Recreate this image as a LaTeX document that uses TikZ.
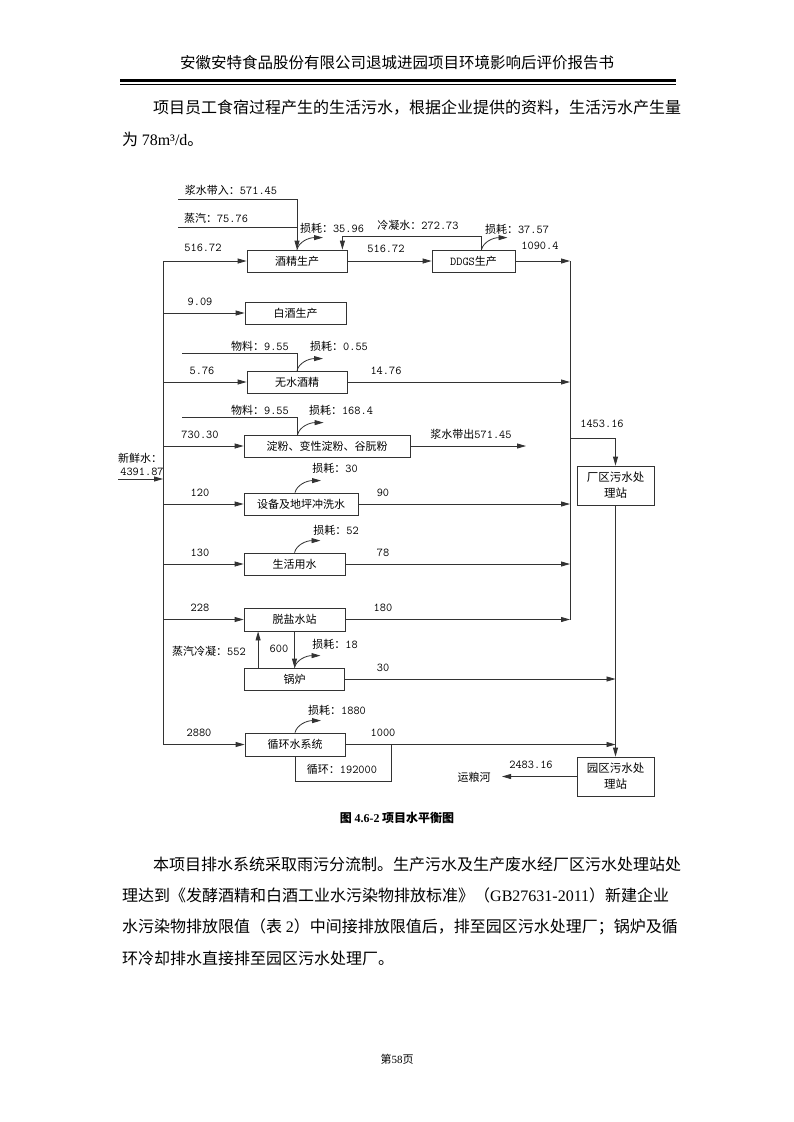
\documentclass[tikz,border=0pt]{standalone}
\usepackage{fontspec}
\setmainfont{Noto Sans CJK SC}
\newfontfamily\tnr{Liberation Serif}
\usetikzlibrary{arrows.meta,calc}
\newcommand\nm[1]{{\ttfamily\fontsize{12}{13}\selectfont #1}}
\newcommand\lossarrow[1]{\draw[arr] (#1) .. controls ($(#1)+(2,-8)$) and ($(#1)+(12,-12)$) .. ($(#1)+(26,-12)$);}
\begin{document}
\begin{tikzpicture}[x=1pt,y=-1pt]
\tikzset{
  ln/.style={draw=black!80, line width=0.8pt},
  arr/.style={ln, -{Triangle[length=9pt,width=5pt]}},
  box/.style={draw=black!80, line width=0.8pt, minimum height=22pt, inner sep=0pt,
              font=\fontsize{11}{15}\selectfont, align=center},
  lbl/.style={font=\fontsize{11}{13}\selectfont, inner sep=0pt},
  body/.style={font=\fontsize{16}{20}\selectfont, inner sep=0pt, anchor=west},
}
\fill[white] (0,0) rectangle (793,1122);
\useasboundingbox (0,0) rectangle (793,1122);

% header
\node[font=\fontsize{15.5}{18}\selectfont, inner sep=0pt] (hdr) at (397,63) {安徽安特食品股份有限公司退城进园项目环境影响后评价报告书};
\draw[line width=3pt] (120,80.5) -- (676,80.5);
\draw[line width=1pt] (120,84.6) -- (676,84.6);

% paragraph 1
\node[body] (p1a) at (153,108) {项目员工食宿过程产生的生活污水，根据企业提供的资料，生活污水产生量};
\node[body] (p1b) at (122,139) {为 {\tnr 78m³/d}。};

% boxes
\node[box, minimum width=100pt] (jj) at (297,261) {酒精生产};
\node[box, minimum width=83pt] (ddgs) at (473.5,261) {\nm{DDGS}生产};
\node[box, minimum width=101pt] (bj) at (295.5,313) {白酒生产};
\node[box, minimum width=100pt] (ws) at (297,382) {无水酒精};
\node[box, minimum width=166pt] (df) at (327,446) {淀粉、变性淀粉、谷朊粉};
\node[box, minimum width=114pt] (sb) at (301,504) {设备及地坪冲洗水};
\node[box, minimum width=101pt] (sh) at (294.5,564) {生活用水};
\node[box, minimum width=101pt, minimum height=23pt] (ty) at (294.5,619.5) {脱盐水站};
\node[box, minimum width=100pt] (gl) at (294.5,679) {锅炉};
\node[box, minimum width=100pt, minimum height=23pt] (xh) at (295,744.5) {循环水系统};
\node[box, minimum width=77pt, minimum height=39pt, font=\fontsize{11.5}{16}\selectfont] (cq) at (615.5,485.5) {厂区污水处\\理站};
\node[box, minimum width=77pt, minimum height=39pt, font=\fontsize{11.5}{16}\selectfont] (yq) at (615.5,776.5) {园区污水处\\理站};

% coordinates
\coordinate (busL) at (163,0);
\coordinate (busR) at (570,0);
\coordinate (fw) at (118,479);
\coordinate (s1) at (178,199);
\coordinate (s2) at (178,227);
\coordinate (dd) at ($(ddgs.north)+(8,0)$);
\coordinate (jjc) at ($(jj.north east)+(-5,0)$);
\coordinate (m1) at (182,353);
\coordinate (m2) at (182,417);
\coordinate (dftop) at ($(df.north west)+(54,0)$);
\coordinate (dfout) at (526,446);
\coordinate (b1453) at (570,438);
\coordinate (sbl) at ($(sb.north)+(-6,0)$);
\coordinate (gA) at ($(gl.north west)+(14,0)$);
\coordinate (lp) at (391,781);
\coordinate (riv) at (502,776.5);

% left bus and inputs
\draw[ln] (jj.west -| busL) -- (xh.west -| busL);
\foreach \b in {jj,bj,ws,df,sb,sh,ty,xh} \draw[arr] (\b.west -| busL) -- (\b.west);
\draw[arr] (fw) -- (fw -| busL);

% top inputs to jj
\draw[arr] (s1) -| (jj.north);
\draw[ln] (s2) -- (s2 -| jj.north);
\draw[arr] (jj.east) -- (ddgs.west);
\draw[arr] (dd) -- ++(0,-13) -| (jjc);

% materials
\draw[ln] (m1) -| (ws.north);
\draw[ln] (m2) -| (dftop);

% right bus
\draw[arr] (ddgs.east) -- (ddgs.east -| busR);
\draw[ln] (ddgs.east -| busR) -- (ty.east -| busR);
\foreach \b in {ws,sb,sh,ty} \draw[arr] (\b.east) -- (\b.east -| busR);
\draw[arr] (df.east) -- (dfout);
\draw[arr] (b1453) -| (cq.north);
\draw[arr] (cq.south) -- (yq.north);
\draw[arr] (gl.east) -- (gl.east -| yq.north);
\draw[arr] (xh.east) -- (xh.east -| yq.north);
\draw[arr] (yq.west) -- (riv);

% boiler
\draw[arr] (gA) -- (gA |- ty.south);
\draw[arr] (ty.south) -- (gl.north);
\draw[ln] (xh.south) |- (lp) -- (lp |- xh.east);

% losses
\lossarrow{jj.north}
\lossarrow{dd}
\lossarrow{ws.north}
\lossarrow{dftop}
\lossarrow{sbl}
\lossarrow{sh.north}
\lossarrow{gl.north}
\lossarrow{xh.north}

% labels
\node[lbl] (t1) at (231,190) {浆水带入：\nm{571.45}};
\node[lbl] (t2) at (216,218) {蒸汽：\nm{75.76}};
\node[lbl] (t3) at (203,248) {\nm{516.72}};
\node[lbl] (t4) at (332,228) {损耗：\nm{35.96}};
\node[lbl] (t5) at (418,225) {冷凝水：\nm{272.73}};
\node[lbl] (t6) at (386,249) {\nm{516.72}};
\node[lbl] (t7) at (517,229) {损耗：\nm{37.57}};
\node[lbl] (t8) at (540,246) {\nm{1090.4}};
\node[lbl] (t9) at (200,302) {\nm{9.09}};
\node[lbl] (t10) at (260,346) {物料：\nm{9.55}};
\node[lbl] (t11) at (339,346) {损耗：\nm{0.55}};
\node[lbl] (t12) at (202,371) {\nm{5.76}};
\node[lbl] (t13) at (386,371) {\nm{14.76}};
\node[lbl] (t14) at (260,410) {物料：\nm{9.55}};
\node[lbl] (t15) at (341,410) {损耗：\nm{168.4}};
\node[lbl] (t16) at (200,435) {\nm{730.30}};
\node[lbl] (t17) at (471,434) {浆水带出\nm{571.45}};
\node[lbl] (t18) at (602,424) {\nm{1453.16}};
\node[lbl] (t19) at (140,458) {新鲜水：};
\node[lbl] (t20) at (142,472) {\nm{4391.87}};
\node[lbl] (t21) at (335,468) {损耗：\nm{30}};
\node[lbl] (t22) at (200,493) {\nm{120}};
\node[lbl] (t23) at (383,493) {\nm{90}};
\node[lbl] (t24) at (336,530) {损耗：\nm{52}};
\node[lbl] (t25) at (200,553) {\nm{130}};
\node[lbl] (t26) at (383,553) {\nm{78}};
\node[lbl] (t27) at (200,608) {\nm{228}};
\node[lbl] (t28) at (383,608) {\nm{180}};
\node[lbl] (t29) at (209,651) {蒸汽冷凝：\nm{552}};
\node[lbl] (t30) at (279,649) {\nm{600}};
\node[lbl] (t31) at (335,644) {损耗：\nm{18}};
\node[lbl] (t32) at (383,668) {\nm{30}};
\node[lbl] (t33) at (337,710) {损耗：\nm{1880}};
\node[lbl] (t34) at (199,733) {\nm{2880}};
\node[lbl] (t35) at (383,733) {\nm{1000}};
\node[lbl] (t36) at (342,769) {循环：\nm{192000}};
\node[lbl] (t37) at (531,765) {\nm{2483.16}};
\node[lbl] (t38) at (474,777) {运粮河};

% caption
\node[font=\fontsize{12}{14}\selectfont\bfseries, inner sep=0pt] (cap) at (397,818) {图 {\tnr\bfseries 4.6-2} 项目水平衡图};

% paragraph 2
\node[body] (p2a) at (153,864) {本项目排水系统采取雨污分流制。生产污水及生产废水经厂区污水处理站处};
\node[body] (p2b) at (122,895.5) {\XeTeXinterchartokenstate=1
  \XeTeXinterchartoks 1 1 = {\hskip 0pt plus 1pt}%
  \XeTeXinterchartoks 1 2 = {\hskip 0pt plus 1pt}%
  \XeTeXinterchartoks 3 1 = {\hskip 0pt plus 1pt}%
  \XeTeXinterchartoks 2 1 = {\hskip 0pt plus 1pt}%
  \XeTeXinterchartoks 1 3 = {\hskip 0pt plus 1pt}%
  \hbox to 561pt{理达到《发酵酒精和白酒工业水污染物排放标准》（{\tnr GB27631-2011}）新建企业}};
\node[body] (p2c) at (122,927) {水污染物排放限值（表 {\tnr 2}）中间接排放限值后，排至园区污水处理厂；锅炉及循};
\node[body] (p2d) at (122,958.5) {环冷却排水直接排至园区污水处理厂。};

% footer
\node[font=\fontsize{11}{13}\selectfont, inner sep=0pt] (ftr) at (397,1059) {第{\tnr 58}页};
\end{tikzpicture}
\end{document}
